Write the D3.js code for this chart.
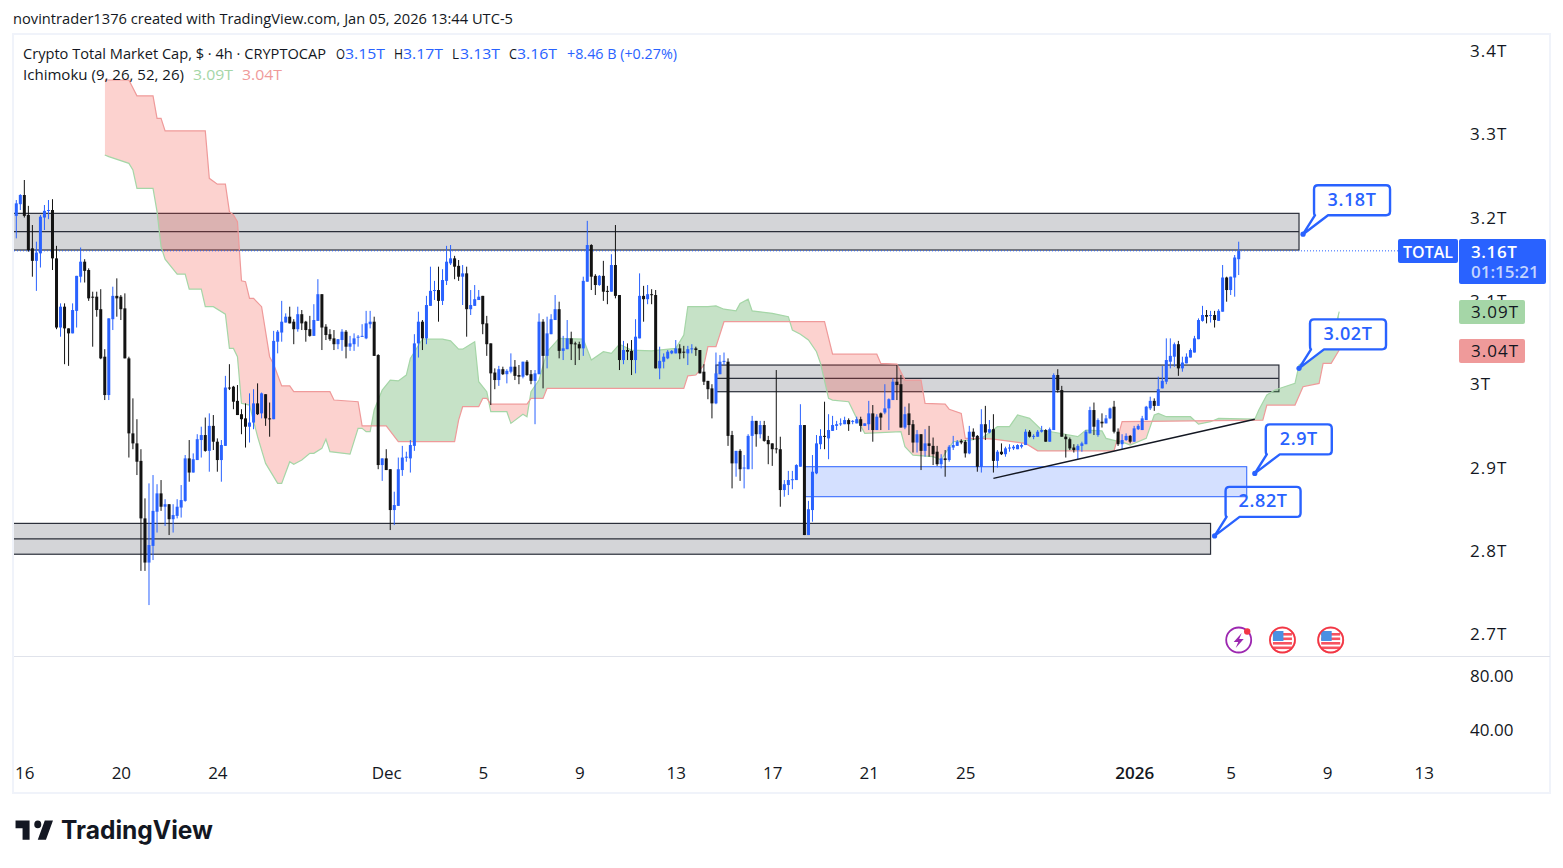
<!DOCTYPE html>
<html>
<head>
<meta charset="utf-8">
<style>
  html, body { margin: 0; padding: 0; background: #fff; }
  svg { display: block; }
  text { font-family: "Open Sans", "Noto Sans", sans-serif; fill: #131722; }
  .axis text { font-size: 17px; }
  .axis path, .axis line { display: none; }
</style>
<script src="https://cdn.jsdelivr.net/npm/d3@7"></script>
</head>
<body>
<svg id="chart" width="1563" height="868"></svg>
<script>
// all prices in billions of USD, one entry per 4h candle, first one is cut by the pane edge
var opens = [3218,
  3201,3215,3226,3202,3162,3147,3156,3199,3207,3208,
  3150,3067,3092,3066,3060,3087,3128,3146,3136,3104,
  3104,3089,3032,2986,3077,3105,3104,3090,3030,2940,
  2928,2907,2838,2785,2805,2846,2868,2852,2855,2837,
  2841,2851,2859,2910,2893,2908,2932,2938,2919,2949,
  2930,2908,2925,2995,2996,2979,2963,2958,2948,2953,
  2976,2964,2987,2958,2957,3050,3061,3073,3080,3074,
  3065,3083,3074,3065,3057,3075,3107,3068,3059,3054,
  3047,3052,3062,3044,3047,3055,3056,3054,3071,3074,
  3034,2902,2910,2897,2848,2853,2896,2911,2910,2925,
  3048,3074,3054,3093,3111,3112,3099,3123,3144,3150,
  3141,3128,3132,3089,3093,3100,3105,3072,3048,3013,
  3004,3017,3011,3014,3020,3010,3008,3026,3011,3003,
  3011,3074,3033,3059,3076,3089,3039,3041,3054,3048,
  3047,3042,3122,3166,3129,3118,3129,3111,3110,3142,
  3106,3028,3040,3039,3028,3054,3105,3101,3107,3106,
  3018,3026,3030,3036,3036,3042,3038,3036,3041,3042,
  3040,3014,3003,2994,2976,3011,3026,3026,2938,2904,
  2919,2898,2897,2937,2955,2939,2950,2932,2928,2922,
  2921,2872,2878,2884,2884,2900,2950,2818,2848,2892,
  2927,2937,2934,2943,2949,2951,2951,2956,2954,2952,
  2957,2949,2951,2964,2944,2964,2965,2970,2980,3002,
  2999,2947,2964,2951,2929,2939,2919,2928,2925,2918,
  2903,2910,2908,2923,2925,2931,2930,2916,2942,2937,
  2900,2951,2941,2945,2907,2918,2915,2922,2922,2921,
  2924,2926,2942,2936,2936,2942,2944,2930,2944,3010,
  2992,2936,2933,2923,2920,2925,2927,2940,2968,2938,
  2954,2952,2958,2972,2942,2927,2932,2937,2930,2945,
  2944,2956,2970,2979,2973,2994,3002,3026,3032,3047,
  3018,3024,3031,3037,3053,3075,3082,3081,3082,3075,
  3086,3127,3112,3127,3149];
var highs = [3218,
  3220,3227,3244,3213,3190,3170,3202,3214,3220,3221,
  3165,3096,3096,3066,3096,3129,3163,3149,3138,3110,
  3110,3113,3041,3078,3116,3126,3106,3108,3032,2982,
  2957,2921,2862,2880,2890,2879,2884,2861,2855,2855,
  2861,2878,2914,2932,2916,2939,2948,2959,2964,2962,
  2934,2932,3009,3023,2997,2998,2969,2976,2988,2993,
  3000,2989,2987,2977,3063,3064,3099,3084,3092,3077,
  3092,3088,3075,3081,3095,3125,3107,3071,3065,3064,
  3053,3065,3064,3057,3060,3058,3071,3087,3087,3080,
  3035,2910,2921,2897,2870,2911,2925,2918,2932,3059,
  3086,3076,3105,3140,3123,3140,3137,3165,3166,3153,
  3148,3142,3140,3112,3118,3112,3105,3081,3048,3018,
  3021,3020,3017,3036,3028,3022,3026,3028,3016,3016,
  3084,3077,3080,3083,3106,3098,3057,3076,3062,3050,
  3050,3128,3195,3167,3131,3130,3147,3117,3155,3190,
  3106,3051,3048,3052,3077,3132,3117,3118,3113,3112,
  3044,3036,3040,3040,3052,3047,3045,3045,3047,3044,
  3040,3023,3003,2999,3037,3034,3037,3030,2943,2919,
  2921,2914,2939,2961,2955,2955,2955,2937,2928,3016,
  2936,2884,2895,2895,2903,2975,2950,2859,2914,2938,
  2945,2978,2963,2961,2955,2958,2960,2958,2956,2960,
  2960,2952,2979,2974,2963,2965,2999,2982,3006,3022,
  3010,2972,2976,2956,2944,2939,2945,2949,2935,2925,
  2915,2920,2926,2937,2932,2933,2932,2949,2946,2938,
  2969,2973,2956,2963,2920,2928,2924,2927,2926,2927,
  2928,2945,2944,2939,2944,2949,2945,2947,3012,3017,
  2997,2939,2935,2927,2927,2930,2944,2972,2977,2958,
  2964,2962,2971,2979,2946,2939,2940,2938,2949,2951,
  2961,2973,2984,2982,3008,3021,3054,3054,3049,3051,
  3032,3036,3042,3057,3078,3093,3088,3087,3087,3089,
  3142,3128,3128,3154,3170];
var lows = [3203,
  3174,3208,3199,3158,3128,3111,3139,3184,3197,3136,
  3065,3056,3023,3021,3060,3067,3121,3121,3099,3044,
  3080,3029,2980,2980,3064,3080,3076,3030,2911,2921,
  2890,2775,2775,2734,2788,2821,2847,2829,2818,2821,
  2838,2839,2858,2882,2893,2908,2911,2918,2894,2920,
  2894,2882,2925,2992,2969,2962,2939,2923,2929,2945,
  2962,2958,2949,2936,2957,3036,3050,3073,3072,3047,
  3062,3064,3050,3056,3057,3075,3040,3052,3051,3040,
  3041,3039,3030,3039,3039,3044,3056,3053,3066,3033,
  2897,2883,2896,2824,2830,2853,2889,2906,2893,2919,
  3031,3040,3047,3093,3100,3074,3094,3118,3142,3125,
  3123,3094,3056,3082,3093,3100,3059,3033,2974,2993,
  2997,3010,3000,3012,3004,2999,3006,3009,2999,2951,
  3011,2994,3018,3059,3076,3030,3028,3041,3028,3022,
  3028,3033,3122,3112,3106,3117,3099,3095,3110,3102,
  3016,3023,3028,3010,3012,3054,3074,3095,3095,3018,
  3005,3018,3029,3035,3036,3029,3030,3022,3036,3033,
  3012,2998,2981,2958,2975,3011,3022,2925,2874,2888,
  2883,2874,2897,2897,2924,2934,2930,2903,2901,2916,
  2852,2864,2866,2873,2884,2900,2818,2818,2834,2891,
  2921,2921,2909,2943,2944,2949,2951,2943,2951,2952,
  2942,2949,2944,2930,2944,2944,2963,2944,2980,2980,
  2947,2945,2938,2917,2917,2896,2912,2912,2902,2901,
  2898,2888,2906,2920,2925,2927,2911,2915,2932,2894,
  2893,2932,2940,2893,2899,2914,2912,2918,2920,2921,
  2922,2926,2935,2933,2936,2941,2930,2930,2944,2989,
  2936,2911,2920,2917,2909,2918,2927,2940,2938,2936,
  2947,2952,2957,2940,2925,2921,2931,2928,2930,2944,
  2944,2956,2968,2967,2973,2994,2999,3018,3020,3009,
  3014,3024,3031,3037,3053,3074,3072,3073,3067,3075,
  3086,3098,3106,3104,3130];
var closes = [3203,
  3216,3226,3201,3160,3147,3157,3200,3207,3208,3150,
  3067,3092,3066,3060,3088,3129,3146,3135,3102,3103,
  3088,3030,2986,3078,3105,3102,3089,3030,2940,2928,
  2906,2838,2785,2806,2847,2868,2852,2855,2837,2842,
  2852,2860,2910,2893,2909,2933,2938,2919,2949,2930,
  2908,2926,2995,2994,2978,2962,2957,2948,2953,2976,
  2963,2988,2958,2957,3051,3062,3074,3080,3072,3065,
  3083,3072,3064,3057,3076,3107,3067,3058,3053,3047,
  3053,3062,3044,3048,3054,3056,3057,3072,3074,3033,
  2902,2910,2896,2848,2854,2897,2911,2912,2926,3048,
  3074,3054,3094,3111,3112,3099,3124,3146,3150,3140,
  3128,3132,3089,3094,3101,3104,3071,3047,3012,3004,
  3017,3011,3015,3020,3009,3008,3026,3010,3003,3012,
  3074,3033,3060,3077,3089,3039,3042,3054,3047,3047,
  3042,3123,3166,3128,3118,3129,3110,3110,3142,3105,
  3028,3040,3038,3028,3056,3105,3101,3107,3106,3018,
  3027,3032,3038,3039,3042,3036,3037,3041,3042,3040,
  3012,3002,2993,2976,3012,3026,3027,2937,2904,2919,
  2897,2899,2937,2955,2939,2950,2931,2927,2921,2921,
  2872,2879,2884,2885,2902,2950,2818,2849,2894,2928,
  2937,2936,2944,2950,2951,2952,2956,2951,2955,2957,
  2949,2952,2964,2944,2960,2959,2970,2981,3002,2998,
  2947,2963,2950,2929,2939,2919,2928,2925,2915,2903,
  2910,2908,2924,2926,2930,2929,2916,2942,2936,2900,
  2951,2941,2945,2907,2918,2915,2922,2923,2924,2926,
  2926,2942,2936,2937,2942,2944,2930,2945,3010,2992,
  2936,2933,2922,2920,2925,2928,2942,2968,2948,2956,
  2952,2958,2970,2942,2927,2932,2937,2930,2946,2949,
  2958,2972,2979,2973,2993,3003,3028,3033,3047,3018,
  3025,3032,3040,3054,3076,3082,3080,3082,3076,3087,
  3127,3112,3128,3151,3159];

// ichimoku leading spans, only the corners of the stepped lines
var spanABars = [22,23,28,29,30,34,35,36,37,40,42,43,46,47,49,52,53,54,55,56,58,60,62,65,66,68,69,71,73,74,76,77,78,83,85,86,87,88,89,91,93,95,97,98,101,106,108,110,111,114,115,117,118,122,123,126,127,128,130,132,135,141,143,146,148,150,153,158,164,166,167,172,174,176,179,180,182,183,188,192,193,195,197,199,200,202,203,207,209,211,220,221,223,228,230,231,233,237,240,244,247,249,252,255,264,266,270,271,276,277,281,283,284,286,292,294,297,299,308,309,311,313,318,319,325,327,329];
var spanA = [3274,3272,3264,3256,3234,3234,3206,3164,3149,3131,3131,3113,3113,3092,3092,3083,3042,3042,3032,2976,2974,2936,2904,2880,2880,2906,2903,2908,2916,2916,2922,2933,2918,2915,2946,2946,2942,2942,2968,2992,3004,3003,3010,3030,3053,3053,3051,3041,3041,3050,3002,2990,2966,2966,2952,2963,2960,2990,3004,3038,3054,3053,3028,3038,3036,3047,3040,3039,3042,3058,3092,3092,3093,3089,3087,3096,3101,3087,3084,3080,3064,3059,3052,3038,3024,2982,2980,2978,2958,2940,2942,2924,2914,2912,2908,2916,2930,2932,2934,2948,2948,2962,2958,2944,2936,2944,2943,2934,2928,2926,2934,2962,2964,2960,2960,2951,2954,2958,2957,2968,2986,2992,3000,3022,3040,3048,3086];
var spanBBars = [22,28,30,34,35,36,37,47,48,50,52,53,54,55,56,57,58,59,61,63,64,66,68,69,78,79,85,86,92,95,102,109,110,111,115,116,117,118,127,128,131,132,166,167,169,171,172,174,176,201,203,214,215,219,221,225,226,231,232,235,236,240,243,251,254,273,275,310,311,318,320,324,325,327,329];
var spanB = [3364,3364,3345,3345,3318,3318,3303,3303,3246,3239,3239,3206,3202,3194,3123,3122,3102,3102,3092,3032,3023,2997,2997,2990,2990,2980,2978,2949,2949,2930,2930,2930,2956,2972,2972,2982,2982,2975,2975,2982,2982,2994,2994,3009,3010,3022,3044,3044,3074,3074,3035,3035,3024,3023,3004,3004,2976,2975,2969,2964,2934,2934,2933,2928,2919,2919,2954,2956,2974,2974,2996,3000,3024,3024,3040];

// drawings on the chart: [first bar, last bar, top price, bottom price]
var zones = [[-2,319,3204,3160],[174,314,3022,2990],[-2,297,2832,2795]];
var blueZone = [196,306,2900,2864];
var trendBars = [243,308];
var trendPrices = [2886,2957];
var calloutLabels = ["3.18T","3.02T","2.9T","2.82T"];
var calloutBars = [320,319,308,298];
var calloutPrices = [3179,3018,2892,2817];
var calloutWidths = [76,76,66,75];

var priceTicks = [3400,3300,3200,3100,3000,2900,2800,2700];
var priceLabels = ["3.4T","3.3T","3.2T","3.1T","3T","2.9T","2.8T","2.7T"];
var oscTicks = [80,40];
var dayTicks = ["2025-11-16","2025-11-20","2025-11-24","2025-12-01","2025-12-05","2025-12-09","2025-12-13","2025-12-17","2025-12-21","2025-12-25","2026-01-01","2026-01-05","2026-01-09","2026-01-13"];
var dayLabels = ["16","20","24","Dec","5","9","13","17","21","25","2026","5","9","13"];
var eventBars = [304,315,327];

var upColor = "#2962ff", downColor = "#131313", gridLine = "#e0e3eb";
var svg = d3.select("#chart");

var barMs = 4 * 3600 * 1000;
var startMs = Date.UTC(2025, 10, 15, 19);
function barTime(i) { return new Date(startMs + i * barMs); }

var x = d3.scaleUtc().domain([barTime(0), barTime(304)]).range([16.3, 1238.7]);
var y = d3.scaleLinear().domain([2700, 3400]).range([633.4, 50]);
var yOsc = d3.scaleLinear().domain([40, 80]).range([730, 676]);
function barX(i) { return x(barTime(i)); }

var defs = svg.append("defs");
defs.append("clipPath").attr("id", "pane").append("rect")
  .attr("x", 14).attr("y", 35).attr("width", 1536).attr("height", 621);

// frame of the chart
svg.append("rect").attr("x", 13).attr("y", 34).attr("width", 1537).attr("height", 759)
  .attr("fill", "none").attr("stroke", "#f0f3fa").attr("stroke-width", 2);
svg.append("line").attr("x1", 14).attr("x2", 1550).attr("y1", 656.5).attr("y2", 656.5).attr("stroke", gridLine);

var plot = svg.append("g").attr("clip-path", "url(#pane)");

// gray zones go behind everything
zones.forEach(function(z) {
  plot.append("rect")
    .attr("x", barX(z[0])).attr("width", barX(z[1]) - barX(z[0]))
    .attr("y", y(z[2])).attr("height", y(z[3]) - y(z[2]))
    .attr("fill", "rgba(120,123,134,.32)").attr("stroke", "#2a2e39").attr("stroke-width", 1.2);
  plot.append("line")
    .attr("x1", barX(z[0])).attr("x2", barX(z[1]))
    .attr("y1", y((z[2] + z[3]) / 2)).attr("y2", y((z[2] + z[3]) / 2))
    .attr("stroke", "#2a2e39").attr("stroke-width", 1.2);
});

function drawCallout(g, k) {
  var ax = barX(calloutBars[k]), ay = y(calloutPrices[k]);
  var bx = ax + 11, by = ay - 49, w = calloutWidths[k], h = 30, r = 4;
  var d = "M" + (bx + r) + "," + by + "H" + (bx + w - r) + "Q" + (bx + w) + "," + by + " " + (bx + w) + "," + (by + r)
    + "V" + (by + h - r) + "Q" + (bx + w) + "," + (by + h) + " " + (bx + w - r) + "," + (by + h)
    + "H" + (bx + 14) + "L" + ax + "," + ay + "L" + (bx + 1) + "," + (by + h)
    + "Q" + bx + "," + (by + h) + " " + bx + "," + (by + h - r)
    + "V" + (by + r) + "Q" + bx + "," + by + " " + (bx + r) + "," + by + "Z";
  g.append("path").attr("d", d).attr("fill", "#fff").attr("stroke", upColor).attr("stroke-width", 2.4).attr("stroke-linejoin", "round");
  g.append("circle").attr("cx", ax).attr("cy", ay).attr("r", 2.6).attr("fill", upColor);
  g.append("text").attr("x", bx + w / 2).attr("y", by + 20.5).attr("text-anchor", "middle")
    .style("fill", upColor).style("font-size", "18px").style("font-weight", 600).style("letter-spacing", "0.6px")
    .text(calloutLabels[k]);
}

// the 2.82T note sits under the blue zone in the original
drawCallout(plot, 3);

plot.append("rect")
  .attr("x", barX(blueZone[0])).attr("width", barX(blueZone[1]) - barX(blueZone[0]))
  .attr("y", y(blueZone[2])).attr("height", y(blueZone[3]) - y(blueZone[2]))
  .attr("fill", "rgba(41,98,255,.2)").attr("stroke", upColor);

// cloud, green where span A is over span B, red the other way round
var pointsA = spanABars.map(function(b, i) { return [barX(b), y(spanA[i])]; });
var pointsB = spanBBars.map(function(b, i) { return [barX(b), y(spanB[i])]; });
function closed(points, edge) {
  var first = points[0][0], last = points[points.length - 1][0];
  return "M" + first + "," + edge + "L" + points.join("L") + "L" + last + "," + edge + "Z";
}
defs.append("clipPath").attr("id", "aboveB").append("path").attr("d", closed(pointsB, 0));
defs.append("clipPath").attr("id", "aboveA").append("path").attr("d", closed(pointsA, 0));
plot.append("g").attr("clip-path", "url(#aboveB)").append("path")
  .attr("d", closed(pointsA, 868)).attr("fill", "rgba(67,160,71,.3)");
plot.append("g").attr("clip-path", "url(#aboveA)").append("path")
  .attr("d", closed(pointsB, 868)).attr("fill", "rgba(244,67,54,.24)");

var lineGen = d3.line();
plot.append("path").attr("d", lineGen(pointsA)).attr("fill", "none").attr("stroke", "#a5d6a7").attr("stroke-width", 1.2);
plot.append("path").attr("d", lineGen(pointsB)).attr("fill", "none").attr("stroke", "#ef9a9a").attr("stroke-width", 1.2);

// last price line
plot.append("line").attr("x1", 14).attr("x2", 1398).attr("y1", y(closes[closes.length - 1])).attr("y2", y(closes[closes.length - 1]))
  .attr("stroke", upColor).attr("stroke-dasharray", "1 2");

// candles
var candles = plot.append("g").selectAll("g").data(opens).join("g");
function candleColor(d, i) { return closes[i] >= opens[i] ? upColor : downColor; }
candles.append("line")
  .attr("x1", function(d, i) { return barX(i - 1); })
  .attr("x2", function(d, i) { return barX(i - 1); })
  .attr("y1", function(d, i) { return y(highs[i]); })
  .attr("y2", function(d, i) { return y(lows[i]); })
  .attr("stroke", candleColor).attr("stroke-width", 1);
candles.append("rect")
  .attr("x", function(d, i) { return barX(i - 1) - 1.5; })
  .attr("width", 3)
  .attr("y", function(d, i) { return y(Math.max(opens[i], closes[i])); })
  .attr("height", function(d, i) { return Math.max(1, Math.abs(y(opens[i]) - y(closes[i]))); })
  .attr("fill", candleColor);

plot.append("line")
  .attr("x1", barX(trendBars[0])).attr("x2", barX(trendBars[1]))
  .attr("y1", y(trendPrices[0])).attr("y2", y(trendPrices[1]))
  .attr("stroke", "#131722").attr("stroke-width", 1.5);

drawCallout(plot, 0);
drawCallout(plot, 1);
drawCallout(plot, 2);

// event markers above the separator
function drawFlag(cx, cy) {
  var g = svg.append("g").attr("transform", "translate(" + cx + "," + cy + ")");
  g.append("circle").attr("r", 12.5).attr("fill", "#fff").attr("stroke", "#f77c80").attr("stroke-width", 2);
  g.append("circle").attr("r", 10).attr("fill", "#fff");
  [-7, -2.5, 2, 6.5].forEach(function(s) {
    g.append("rect").attr("x", -9.5).attr("y", s).attr("width", 19).attr("height", 2.6).attr("fill", "#f7525f");
  });
  g.append("rect").attr("x", -9.5).attr("y", -9).attr("width", 10.5).attr("height", 10).attr("fill", "#4a90e2");
  g.append("circle").attr("r", 12.5).attr("fill", "none").attr("stroke", "#f23645").attr("stroke-width", 1.6);
}
var bolt = svg.append("g").attr("transform", "translate(" + barX(eventBars[0]) + ",640)");
bolt.append("circle").attr("r", 12.5).attr("fill", "#fff").attr("stroke", "#9c27b0").attr("stroke-width", 1.8);
bolt.append("path").attr("d", "M3,-7 L-5,2 L-0.5,2 L-3,8 L5,-1 L0.5,-1 Z").attr("fill", "#9c27b0");
bolt.append("circle").attr("cx", 8.5).attr("cy", -8.5).attr("r", 3.2).attr("fill", "#f23645");
drawFlag(barX(eventBars[1]) - 0.5, 640);
drawFlag(barX(eventBars[2]) - 0.5, 640);

// axes
svg.append("g").attr("class", "axis").attr("transform", "translate(1470,1)")
  .call(d3.axisRight(y).tickValues(priceTicks).tickSize(0).tickPadding(0)
    .tickFormat(function(d, i) { return priceLabels[i]; }))
  .selectAll("text").style("letter-spacing", "1px");
svg.append("g").attr("class", "axis").attr("transform", "translate(1470,0)")
  .call(d3.axisRight(yOsc).tickValues(oscTicks).tickSize(0).tickPadding(0)
    .tickFormat(function(d) { return d3.format(".2f")(d); }));
var timeAxis = svg.append("g").attr("class", "axis").attr("transform", "translate(0,767)")
  .call(d3.axisBottom(x).tickValues(dayTicks.map(function(s) { return new Date(s + "T03:00:00Z"); })).tickSize(0).tickPadding(0)
    .tickFormat(function(d, i) { return dayLabels[i]; }));
timeAxis.selectAll("text").style("font-weight", function(d, i) { return dayLabels[i] === "2026" ? 600 : dayLabels[i] === "Dec" ? 500 : 400; });

// price labels on the right, they cover the 3.1T tick
svg.append("rect").attr("x", 1398).attr("y", 239).attr("width", 60).attr("height", 24).attr("rx", 2).attr("fill", upColor);
svg.append("text").attr("x", 1428).attr("y", 257.5).attr("text-anchor", "middle").style("fill", "#fff").style("font-size", "16px").style("font-weight", 600).text("TOTAL");
svg.append("rect").attr("x", 1459).attr("y", 239).attr("width", 87).attr("height", 45).attr("rx", 2).attr("fill", upColor);
svg.append("text").attr("x", 1471).attr("y", 258).style("fill", "#fff").style("font-size", "17px").style("font-weight", 600).style("letter-spacing", "0.6px").text("3.16T");
svg.append("text").attr("x", 1471).attr("y", 278).style("fill", "#c3d4ff").style("font-size", "17px").style("font-weight", 600).text("01:15:21");
svg.append("rect").attr("x", 1459).attr("y", 300).attr("width", 66).attr("height", 24).attr("rx", 2).attr("fill", "#a5d6a7");
svg.append("text").attr("x", 1471).attr("y", 318).style("font-size", "17px").style("letter-spacing", "1px").text("3.09T");
svg.append("rect").attr("x", 1459).attr("y", 339).attr("width", 66).attr("height", 24).attr("rx", 2).attr("fill", "#ef9a9a");
svg.append("text").attr("x", 1471).attr("y", 357).style("font-size", "17px").style("letter-spacing", "1px").text("3.04T");

// header and legend
function label(px, py, str, color, len) {
  var t = svg.append("text").attr("x", px).attr("y", py).style("font-size", "14px").style("fill", color || "#131722").text(str);
  if (len) t.attr("textLength", len).attr("lengthAdjust", "spacingAndGlyphs");
  return t;
}
label(13, 24, "novintrader1376 created with TradingView.com, Jan 05, 2026 13:44 UTC-5", "#131722", 500);
label(23, 59, "Crypto Total Market Cap, $ · 4h · CRYPTOCAP", "#131722", 303);
label(336, 59, "O", "#131722", 9);
label(345, 59, "3.15T", upColor, 40);
label(394, 59, "H", "#131722", 9);
label(403, 59, "3.17T", upColor, 40);
label(452, 59, "L", "#131722", 7);
label(460, 59, "3.13T", upColor, 40);
label(509, 59, "C", "#131722", 8);
label(517, 59, "3.16T", upColor, 40);
label(567, 59, "+8.46 B (+0.27%)", upColor, 110);
label(23, 80, "Ichimoku (9, 26, 52, 26)", "#131722", 161);
label(193, 80, "3.09T", "#a5d6a7", 40);
label(242, 80, "3.04T", "#ef9a9a", 40);

// logo
svg.append("path").attr("transform", "translate(13.2,813) scale(1.17,1.27)")
  .attr("d", "M14 6H2v6h6v9h6V6Zm14 15h-7l6-15h7l-6 15Zm-7-9a3 3 0 1 0 0-6 3 3 0 0 0 0 6Z")
  .attr("fill", "#131722");
svg.append("text").attr("x", 61).attr("y", 839).attr("textLength", 152).attr("lengthAdjust", "spacingAndGlyphs")
  .style("font-family", "Inter").style("font-size", "25px").style("font-weight", 700).text("TradingView");
</script>
</body>
</html>
